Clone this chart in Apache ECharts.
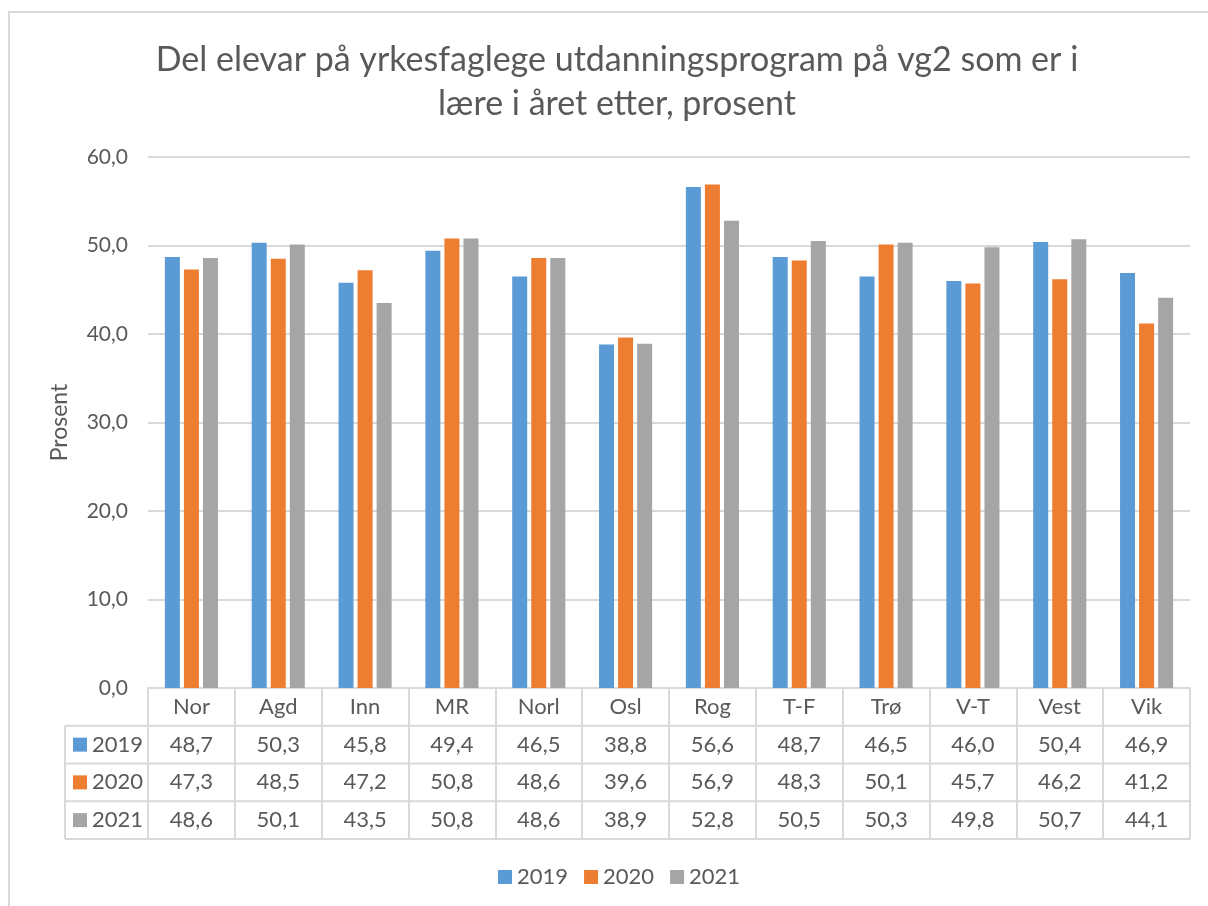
<!DOCTYPE html>
<html>
<head>
<meta charset="utf-8">
<script src="https://cdn.jsdelivr.net/npm/echarts@6/dist/echarts.min.js"></script>
<style>
  html, body { margin: 0; padding: 0; background: #fff; }
  #chart { width: 1208px; height: 906px; }
</style>
</head>
<body>
<div id="chart"></div>
<script>
var categories = ['Nor', 'Agd', 'Inn', 'MR', 'Norl', 'Osl', 'Rog', 'T-F', 'Trø', 'V-T', 'Vest', 'Vik']
var years = ['2019', '2020', '2021']
var values2019 = [48.7, 50.3, 45.8, 49.4, 46.5, 38.8, 56.6, 48.7, 46.5, 46.0, 50.4, 46.9]
var values2020 = [47.3, 48.5, 47.2, 50.8, 48.6, 39.6, 56.9, 48.3, 50.1, 45.7, 46.2, 41.2]
var values2021 = [48.6, 50.1, 43.5, 50.8, 48.6, 38.9, 52.8, 50.5, 50.3, 49.8, 50.7, 44.1]
var yTicks = [0, 10, 20, 30, 40, 50, 60]

var colors = ['#5B9BD5', '#ED7D31', '#A5A5A5']
var textColor = '#595959'
var lineColor = '#D9D9D9'
var font = 'Lato'

// layout of plot + data table
var gridLeft = 148
var gridRight = 18
var gridTop = 157
var axisY = 688
var rowH = 37.75
var tableLeft = 65

function fmt(v) {
  return v.toFixed(1).replace('.', ',')
}

var allSeries = [values2019, values2020, values2021]

var chart = echarts.init(document.getElementById('chart'))

var graphics = [
  {
    type: 'rect',
    shape: { x: 9, y: 12, width: 1400, height: 1200 },
    style: { fill: 'none', stroke: lineColor, lineWidth: 2 },
    silent: true,
  },
  {
    type: 'line',
    shape: { x1: tableLeft, y1: axisY + rowH, x2: tableLeft, y2: axisY + rowH * 4 },
    style: { stroke: lineColor, lineWidth: 2 },
  },
]
for (var k = 1; k <= 4; k++) {
  graphics.push({
    type: 'line',
    shape: { x1: tableLeft, y1: axisY + rowH * k, x2: 1208 - gridRight, y2: axisY + rowH * k },
    style: { stroke: lineColor, lineWidth: 2 },
  })
}
years.forEach(function (y, i) {
  var cy = axisY + rowH * (i + 1.5)
  graphics.push({
    type: 'rect',
    shape: { x: 73, y: cy - 7, width: 14, height: 14 },
    style: { fill: colors[i] },
  })
  graphics.push({
    type: 'text',
    x: 92,
    y: cy,
    style: {
      text: y,
      fill: textColor,
      font: '22px ' + font,
      verticalAlign: 'middle',
      align: 'left',
    },
  })
})

chart.setOption({
  animation: false,
  color: colors,
  textStyle: { fontFamily: font },
  title: {
    text: 'Del elevar på yrkesfaglege utdanningsprogram på vg2 som er i\nlære i året etter, prosent',
    left: 612,
    top: 33,
    textAlign: 'center',
    textStyle: {
      color: textColor,
      fontSize: 34,
      fontWeight: 'normal',
      lineHeight: 44,
      fontFamily: font,
    },
  },
  legend: {
    data: years,
    bottom: 13,
    left: 493,
    icon: 'rect',
    itemWidth: 14,
    itemHeight: 14,
    itemGap: 16,
    textStyle: { color: textColor, fontSize: 22, fontFamily: font },
  },
  graphic: graphics,
  grid: {
    left: gridLeft,
    right: gridRight,
    top: gridTop,
    bottom: 906 - axisY,
    containLabel: false,
  },
  xAxis: {
    type: 'category',
    data: categories,
    axisLine: { show: true, lineStyle: { color: lineColor, width: 2 } },
    axisTick: {
      show: true,
      interval: 0,
      length: rowH * 4,
      lineStyle: { color: lineColor, width: 2 },
    },
    axisLabel: {
      interval: 0,
      margin: 0,
      color: textColor,
      formatter: function (value, idx) {
        var s = '{h|' + value + '}'
        allSeries.forEach(function (arr) {
          s += '\n{v|' + fmt(arr[idx]) + '}'
        })
        return s
      },
      rich: {
        h: { fontSize: 22, lineHeight: rowH, color: textColor, fontFamily: font },
        v: { fontSize: 22, lineHeight: rowH, color: textColor, fontFamily: font },
      },
    },
  },
  yAxis: {
    type: 'value',
    min: yTicks[0],
    max: yTicks[yTicks.length - 1],
    interval: 10,
    name: 'Prosent',
    nameLocation: 'middle',
    nameGap: 77,
    nameTextStyle: { color: textColor, fontSize: 23, fontFamily: font },
    axisLine: { show: false },
    axisTick: { show: false },
    axisLabel: {
      color: textColor,
      fontSize: 21,
      margin: 20,
      formatter: function (v) { return fmt(v) },
    },
    splitLine: { lineStyle: { color: lineColor, width: 2 } },
  },
  series: years.map(function (y, i) {
    return {
      name: y,
      type: 'bar',
      data: allSeries[i],
      barWidth: 15,
      barGap: '27%',
    }
  }),
})
</script>
</body>
</html>
